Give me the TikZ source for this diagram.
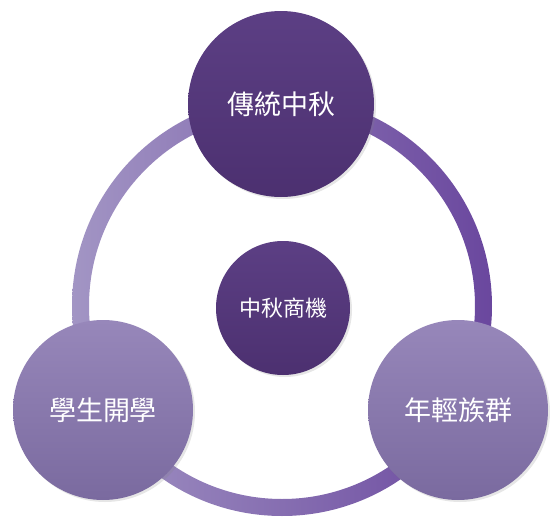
\documentclass[tikz,border=0pt]{standalone}
\usepackage{fontspec}
\newfontfamily\cjk{Noto Sans CJK TC}
\usetikzlibrary{shadows}
\definecolor{darkA}{HTML}{5C3F84}
\definecolor{darkB}{HTML}{4C3070}
\definecolor{lightA}{HTML}{9787BA}
\definecolor{lightB}{HTML}{7A6A9F}
\definecolor{ringL}{HTML}{A295C4}
\definecolor{ringR}{HTML}{6A479E}
\tikzset{
  bigdark/.style={circle, minimum size=186pt, inner sep=0pt, top color=darkA, bottom color=darkB,
    text=white, font=\cjk\fontsize{27}{27}\selectfont, drop shadow={opacity=0.2, shadow xshift=2pt, shadow yshift=-2pt}},
  biglight/.style={circle, minimum size=180pt, inner sep=0pt, top color=lightA, bottom color=lightB,
    text=white, font=\cjk\fontsize{27}{27}\selectfont, drop shadow={opacity=0.2, shadow xshift=2pt, shadow yshift=-2pt}},
  core/.style={circle, minimum size=134pt, inner sep=0pt, top color=darkA, bottom color=darkB,
    text=white, font=\cjk\fontsize{22}{22}\selectfont, drop shadow={opacity=0.2, shadow xshift=2pt, shadow yshift=-2pt}}
}
\begin{document}
\begin{tikzpicture}[x=1pt,y=-1pt]
\useasboundingbox (0,0) rectangle (550,520);
\coordinate (ringc) at (282,306);
\shade[left color=ringL, right color=ringR, even odd rule]
  (ringc) circle[radius=210] (ringc) circle[radius=193];
\node[core] (center) at (283,308) {中秋商機};
\node[bigdark] (top) at (281,104) {傳統中秋};
\node[biglight] (left) at (103,410) {學生開學};
\node[biglight] (right) at (458,410) {年輕族群};
\end{tikzpicture}
\end{document}
